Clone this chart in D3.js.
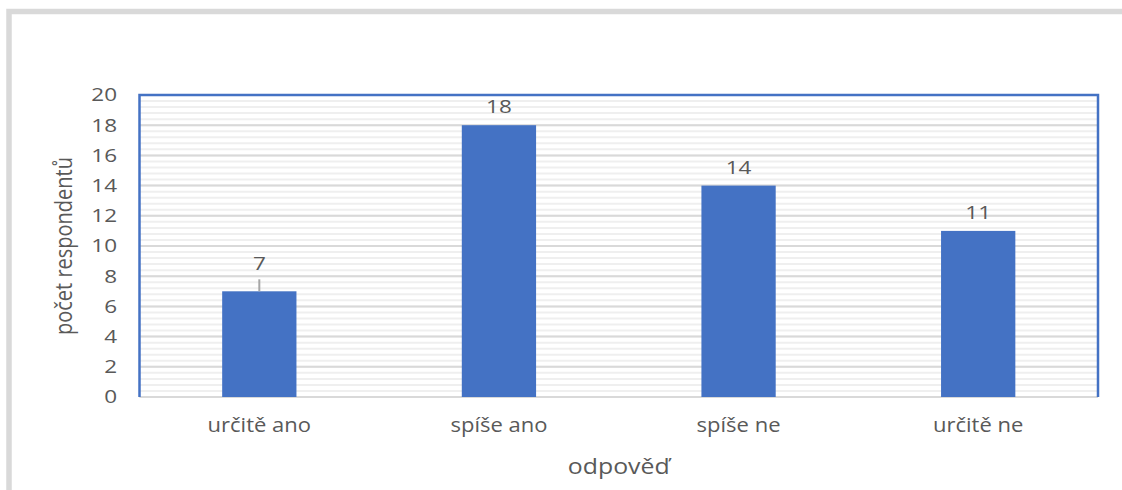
<!DOCTYPE html>
<html>
<head>
<meta charset="utf-8">
<script src="https://cdn.jsdelivr.net/npm/d3@7"></script>
<style>
  html, body { margin: 0; padding: 0; background: #fff; }
  text { font-family: "Open Sans", "Noto Sans", sans-serif; fill: #595959; }
</style>
</head>
<body>
<div id="chart"></div>
<script>
const categories = ['určitě ano', 'spíše ano', 'spíše ne', 'určitě ne'],
    values = [7, 18, 14, 11],
    yTicks = [0, 2, 4, 6, 8, 10, 12, 14, 16, 18, 20];

const width = 1122,
    height = 490,
    plot = {left: 139.5, right: 1098, top: 95, bottom: 397};

const svg = d3.select('#chart').append('svg')
    .attr('width', width)
    .attr('height', height);

// outer frame (only top and left edges are visible)
svg.append('rect')
    .attr('x', 9)
    .attr('y', 11.5)
    .attr('width', 1300)
    .attr('height', 700)
    .attr('fill', 'none')
    .attr('stroke', '#d9d9d9')
    .attr('stroke-width', 5.5);

const x = d3.scaleBand()
    .domain(categories)
    .range([plot.left, plot.right])
    .paddingInner(0.69)
    .paddingOuter(0.345);

const y = d3.scaleLinear()
    .domain([0, 20])
    .range([plot.bottom, plot.top]);

// the source picture is a little wider than tall, so text is stretched in x
const at = (tx, ty, sx) => `translate(${tx},${ty}) scale(${sx},1)`;

//------------------------------------------------------------------------------
// gridlines: minor every 0.4, major every 2
const minor = d3.range(0, 50).map((i) => i * 0.4);

svg.append('g')
    .selectAll('line')
    .data(minor)
    .join('line')
    .attr('x1', plot.left)
    .attr('x2', plot.right)
    .attr('y1', y)
    .attr('y2', y)
    .attr('stroke', '#efefef')
    .attr('stroke-width', 2);

svg.append('g')
    .selectAll('line')
    .data(yTicks)
    .join('line')
    .attr('x1', plot.left)
    .attr('x2', plot.right)
    .attr('y1', y)
    .attr('y2', y)
    .attr('stroke', '#d9d9d9')
    .attr('stroke-width', 2);

// plot border: blue on top, left, right
svg.append('path')
    .attr('d', `M${plot.left},${y(0)}V${y(20)}H${plot.right}V${y(0)}`)
    .attr('fill', 'none')
    .attr('stroke', '#4472c4')
    .attr('stroke-width', 2.5);

//------------------------------------------------------------------------------
svg.append('g')
    .selectAll('rect')
    .data(values)
    .join('rect')
    .attr('x', (d, i) => x(categories[i]))
    .attr('y', (d) => y(d))
    .attr('width', x.bandwidth())
    .attr('height', (d) => y(0) - y(d))
    .attr('fill', '#4472c4');

// data labels; the first one sits higher, with a leader line
const lift = (i) => i === 0 ? 21 : 12;

svg.append('g')
    .selectAll('line')
    .data(values.filter((d, i) => i === 0))
    .join('line')
    .attr('x1', x(categories[0]) + x.bandwidth() / 2)
    .attr('x2', x(categories[0]) + x.bandwidth() / 2)
    .attr('y1', (d) => y(d) - 12)
    .attr('y2', (d) => y(d))
    .attr('stroke', '#a6a6a6')
    .attr('stroke-width', 2);

svg.append('g')
    .selectAll('text')
    .data(values)
    .join('text')
    .attr('transform', (d, i) => at(x(categories[i]) + x.bandwidth() / 2, y(d) - lift(i), 1.25))
    .attr('text-anchor', 'middle')
    .attr('font-size', 18)
    .text((d) => d);

//------------------------------------------------------------------------------
// y axis labels
svg.append('g')
    .selectAll('text')
    .data(yTicks)
    .join('text')
    .attr('transform', (d) => at(117, y(d), 1.25))
    .attr('dy', '0.36em')
    .attr('text-anchor', 'end')
    .attr('font-size', 18)
    .text((d) => d);

// category labels
svg.append('g')
    .selectAll('text')
    .data(categories)
    .join('text')
    .attr('transform', (d) => at(x(d) + x.bandwidth() / 2, 432, 1.1))
    .attr('text-anchor', 'middle')
    .attr('font-size', 20)
    .text((d) => d);

svg.append('text')
    .attr('transform', at((plot.left + plot.right) / 2, 474, 1.13))
    .attr('text-anchor', 'middle')
    .attr('font-size', 22)
    .text('odpověď');

svg.append('text')
    .attr('transform', `translate(72,${(plot.top + plot.bottom) / 2}) rotate(-90) scale(1,1.15)`)
    .attr('text-anchor', 'middle')
    .attr('font-size', 20)
    .text('počet respondentů');
</script>
</body>
</html>
